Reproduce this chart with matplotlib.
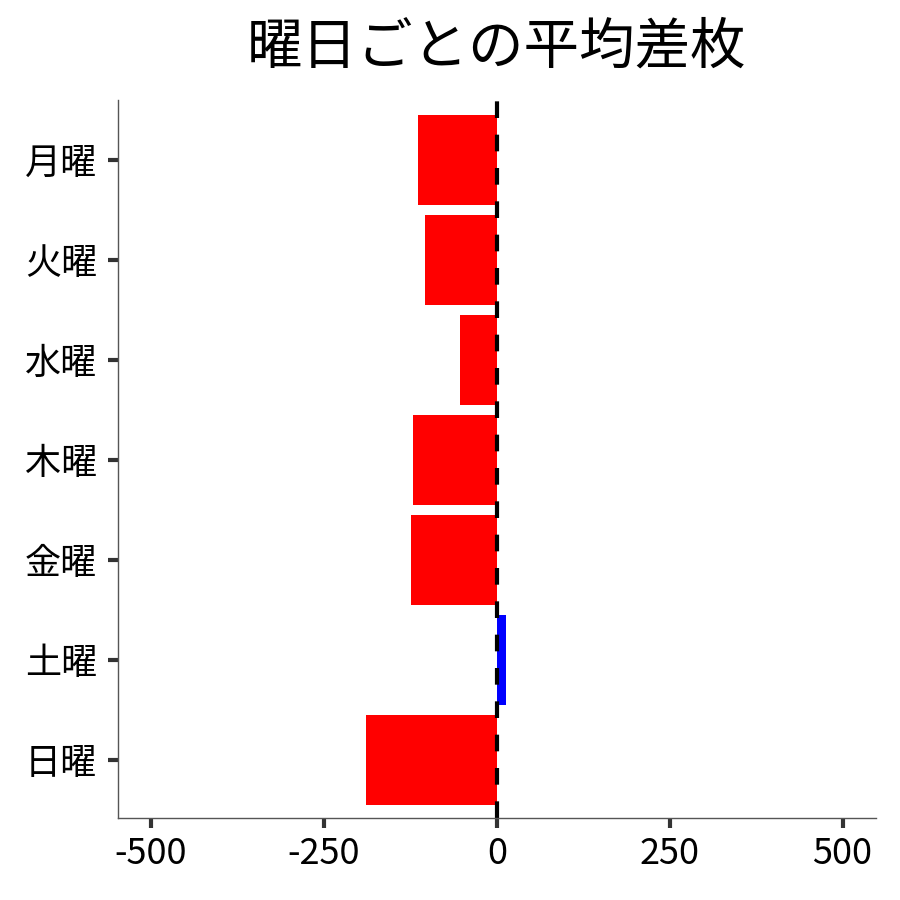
import matplotlib
matplotlib.use("Agg")
import matplotlib.pyplot as plt

plt.rcParams['font.family'] = ['Noto Sans CJK JP', 'DejaVu Sans']
plt.rcParams['axes.unicode_minus'] = False

# 曜日ごとの平均差枚
days = ["月曜", "火曜", "水曜", "木曜", "金曜", "土曜", "日曜"]
avg_diff = [-114, -104, -53, -121, -124, 13, -189]

colors = ['blue' if v > 0 else 'red' for v in avg_diff]

fig, ax = plt.subplots(figsize=(9, 9), dpi=100)
ax.barh(days, avg_diff, color=colors, height=0.9)
ax.axvline(0, color='black', linestyle='--', linewidth=3, dashes=(4, 4))

ax.set_xlim(-548, 548)
ax.set_ylim(6.58, -0.6)
ax.set_xticks([-500, -250, 0, 250, 500])
ax.set_title("曜日ごとの平均差枚", fontsize=40, pad=26)

for s in ['top', 'right']:
    ax.spines[s].set_visible(False)
for s in ['left', 'bottom']:
    ax.spines[s].set_color('#555555')
    ax.spines[s].set_linewidth(1)
ax.tick_params(axis='both', labelsize=26, width=3, length=7, color='#333333')
ax.tick_params(axis='y', pad=8)
ax.tick_params(axis='x', pad=6)

plt.subplots_adjust(left=0.131, right=0.973, top=0.889, bottom=0.091)
plt.savefig("out.png", dpi=100)
